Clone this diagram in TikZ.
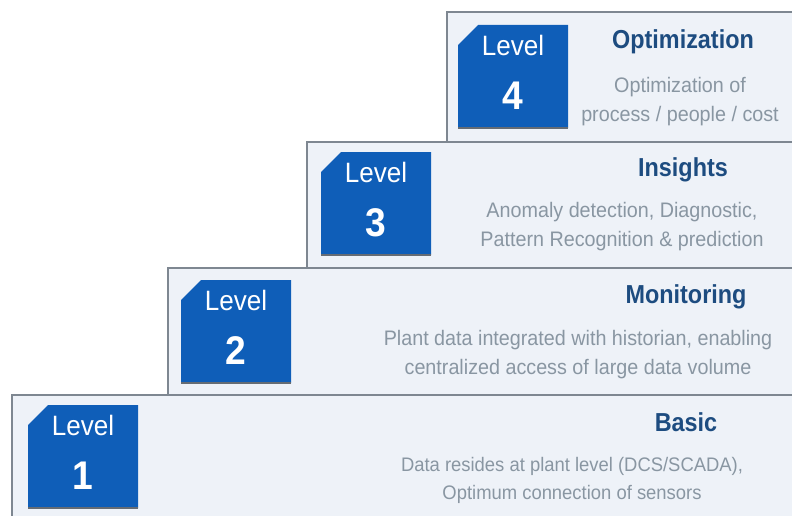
\documentclass[tikz,border=0pt]{standalone}
\usepackage{fontspec}
\setmainfont{Liberation Sans}
\newfontfamily\narrowfont[FakeStretch=0.94]{Liberation Sans}
\newfontfamily\levfont[FakeStretch=0.93]{Liberation Sans}
\newfontfamily\titlefont[FakeStretch=0.9]{Liberation Sans}
\definecolor{boxfill}{HTML}{EEF2F8}
\definecolor{boxline}{HTML}{7E8791}
\definecolor{tileblue}{HTML}{0F5EB8}
\definecolor{titleblue}{HTML}{1D4C80}
\definecolor{descgrey}{HTML}{8996A2}
\tikzset{
  stepbg/.style={fill=boxfill, draw=none},
  stepline/.style={draw=boxline, line width=2pt},
  tile/.style={fill=tileblue, draw=none},
  tileshade/.style={draw=boxline!80!black, line width=1.5pt},
  levtxt/.style={text=white, font=\levfont\fontsize{28}{28}\selectfont, inner sep=0pt},
  numtxt/.style={text=white, font=\levfont\bfseries\fontsize{40}{40}\selectfont, inner sep=0pt},
  ttl/.style={text=titleblue, font=\titlefont\bfseries\fontsize{26}{26}\selectfont, inner sep=0pt},
  desc/.style={text=descgrey, font=\narrowfont\fontsize{21}{29}\selectfont, align=center, inner sep=0pt}
}
\begin{document}
\begin{tikzpicture}[x=1pt,y=-1pt]
\useasboundingbox (0,0) rectangle (792,516);
\fill[white] (0,0) rectangle (792,516);
% step backgrounds
\fill[stepbg] (447,12) rectangle (792,142);
\fill[stepbg] (307,142) rectangle (792,268);
\fill[stepbg] (168,268) rectangle (792,395);
\fill[stepbg] (12,395) rectangle (792,516);
% named corners
\coordinate (s4tl) at (447,12); \coordinate (s4tr) at (792,12); \coordinate (s4bl) at (447,142);
\coordinate (s3tl) at (307,142); \coordinate (s3tr) at (792,142); \coordinate (s3bl) at (307,268);
\coordinate (s2tl) at (168,268); \coordinate (s2tr) at (792,268); \coordinate (s2bl) at (168,395);
\coordinate (s1tl) at (12,395); \coordinate (s1tr) at (792,395); \coordinate (s1bl) at (12,516);
\draw[stepline] (s4bl) -- (s4tl) -- (s4tr);
\draw[stepline] (s3bl) -- (s3tl) -- (s3tr);
\draw[stepline] (s2bl) -- (s2tl) -- (s2tr);
\draw[stepline] (s1bl) -- (s1tl) -- (s1tr);
% tiles
\foreach \n/\x/\y in {4/458/25, 3/321/152, 2/181/280, 1/28/405}{
  \fill[tile] (\x+20,\y) -- (\x+110,\y) -- (\x+110,\y+103) -- (\x,\y+103) -- (\x,\y+20) -- cycle;
  \draw[tileshade] (\x,\y+103) -- (\x+110,\y+103);
  \node[levtxt] (lev\n) at (\x+55,\y+20) {Level};
  \node[numtxt] (num\n) at (\x+55,\y+71) {\n};
}
% titles
\node[ttl] (t4) at (683,42) {Optimization};
\node[ttl] (t3) at (683,170) {Insights};
\node[ttl] (t2) at (686,297) {Monitoring};
\node[ttl] (t1) at (686,422) {Basic};
% descriptions
\node[desc] (d4) at (680,102) {Optimization of\\process / people / cost};
\node[desc] (d3) at (622,227) {Anomaly detection, Diagnostic,\\Pattern Recognition \& prediction};
\node[desc] (d2) at (578,355) {Plant data integrated with historian, enabling\\centralized access of large data volume};
\node[desc, font=\narrowfont\fontsize{19.6}{28}\selectfont] (d1) at (572,480) {Data resides at plant level (DCS/SCADA),\\Optimum connection of sensors};
\end{tikzpicture}
\end{document}
